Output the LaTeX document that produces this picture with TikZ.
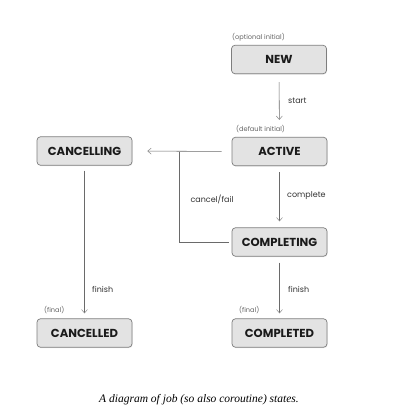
\documentclass[tikz,border=0pt]{standalone}
\usepackage{fontspec}
\setmainfont{Poppins}
\newfontfamily\capfont{Liberation Serif}
\usetikzlibrary{arrows.meta,shadows}
\definecolor{boxfill}{HTML}{E3E3E3}
\definecolor{boxline}{HTML}{7E7E7E}
\definecolor{lncol}{HTML}{6A6A6A}
\definecolor{arrcol}{HTML}{8A8A8A}
\definecolor{txtcol}{HTML}{1A1A1A}
\definecolor{lblcol}{HTML}{333333}
\definecolor{smallcol}{HTML}{666666}
\begin{document}
\begin{tikzpicture}[x=1pt,y=-1pt,
  state/.style={draw=boxline, line width=0.7pt, fill=boxfill, rounded corners=3.5pt,
    minimum width=95pt, minimum height=28.5pt, inner sep=0pt, text=txtcol,
    font=\fontsize{11.6}{13}\selectfont\bfseries,
    drop shadow={opacity=0.18, shadow xshift=0.6pt, shadow yshift=-0.9pt}},
  conn/.style={draw=lncol, line width=0.55pt},
  arr/.style={conn, -{Straight Barb[length=3.5pt,width=6pt,line width=0.5pt,color=arrcol]}},
  lbl/.style={text=lblcol, font=\fontsize{8}{10}\selectfont, inner sep=0pt},
  small/.style={text=smallcol, font=\fontsize{6.6}{8}\selectfont, inner sep=0pt, anchor=west}]
\useasboundingbox[fill=white] (0,0) rectangle (402,415);

\node[state] (new) at (279,59.5) {NEW};
\node[state] (active) at (279.5,151.5) {ACTIVE};
\node[state] (cancelling) at (84.5,151) {CANCELLING};
\node[state] (completing) at (279.5,242) {COMPLETING};
\node[state] (cancelled) at (84.5,333) {CANCELLED};
\node[state] (completed) at (279.5,333) {COMPLETED};

\node[small] (optl) at (232,37) {(optional initial)};
\node[small] (defl) at (236,129) {(default initial)};
\node[small] (fin1) at (44,310) {(final)};
\node[small] (fin2) at (239,310) {(final)};

\coordinate (junc) at (179,151.5);

\draw[arr, shorten <=8pt, shorten >=17pt] (new) -- (active);
\draw[arr, shorten <=6pt, shorten >=6pt] (active) -- (completing);
\draw[arr, shorten <=6pt, shorten >=5pt] (completing) -- (completed);
\draw[arr, shorten <=5pt, shorten >=5pt] (cancelling) -- (cancelled);
\draw[arr, shorten <=10pt, shorten >=15pt] (active.west) -- (cancelling.east);
\draw[conn] ([xshift=-3pt]completing.west) -| (junc);

\node[lbl, anchor=west] (lstart) at (288,101) {start};
\node[lbl, anchor=west] (lcomplete) at (287,196) {complete};
\node[lbl] (lcancel) at (212,199) {cancel/fail};
\node[lbl, anchor=west] (lfin1) at (92,289) {finish};
\node[lbl, anchor=west] (lfin2) at (288,289) {finish};

\node[inner sep=0pt, font=\capfont\itshape\fontsize{11.5}{13}\selectfont, text=black] (cap) at (199,400) {A diagram of job (so also coroutine) states.};
\end{tikzpicture}
\end{document}
